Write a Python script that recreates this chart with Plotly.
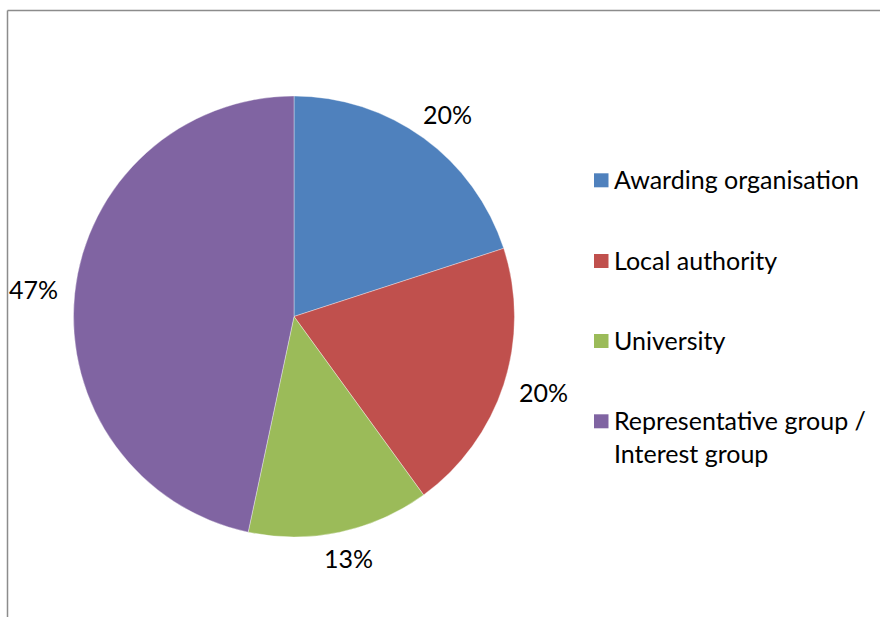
import math
import plotly.graph_objects as go

# Respondent counts by organisation type
categories = ["Awarding organisation", "Local authority", "University",
              "Representative group / Interest group"]
legend_labels = ["Awarding organisation", "Local authority", "University",
                 "Representative group /<br>Interest group"]
counts = [3, 3, 2, 7]
colors = ["#4F81BD", "#C0504D", "#9BBB59", "#8064A2"]

W, H = 880, 617
FONT = "Lato"
FONT_SIZE = 25

# Pie geometry in pixels
cx, cy, r = 294, 316.5, 220.5
# Percentage labels sit on an ellipse around the pie (labels are wider than tall)
label_rx, label_ry = 262, 248

fig = go.Figure(go.Pie(
    labels=categories,
    values=counts,
    sort=False,
    direction="clockwise",
    rotation=0,
    marker=dict(colors=colors, line=dict(color="rgba(255,255,255,0.6)", width=0.6)),
    textinfo="none",
    domain=dict(x=[(cx - r) / W, (cx + r) / W],
                y=[(H - cy - r) / H, (H - cy + r) / H]),
    showlegend=False,
    hoverinfo="label+percent",
))

shapes = []
annotations = []

# Percentage labels outside each slice, placed along the slice's mid-angle
total = sum(counts)
start = 0.0
for c in counts:
    frac = c / total
    mid = (start + frac / 2) * 2 * math.pi  # clockwise from 12 o'clock
    start += frac
    lx = cx + label_rx * math.sin(mid)
    ly = cy - label_ry * math.cos(mid) - 1.5
    annotations.append(dict(xref="paper", yref="paper",
                            x=lx / W, y=1 - ly / H,
                            xanchor="center", yanchor="middle",
                            text=f"{round(frac * 100)}%", showarrow=False,
                            font=dict(family=FONT, size=FONT_SIZE, color="#000000")))

# Chart border (top and left edges visible)
shapes.append(dict(type="line", xref="paper", yref="paper",
                   x0=7.5 / W, x1=1.0, y0=1 - 10.5 / H, y1=1 - 10.5 / H,
                   line=dict(color="#8c8c8c", width=1.5)))
shapes.append(dict(type="line", xref="paper", yref="paper",
                   x0=7.5 / W, x1=7.5 / W, y0=0, y1=1 - 10.5 / H,
                   line=dict(color="#8c8c8c", width=1.5)))

# Legend: swatches with labels
legend_y = [180.3, 261, 341, 421.3]
for lab, col, ly in zip(legend_labels, colors, legend_y):
    shapes.append(dict(type="rect", xref="paper", yref="paper",
                       x0=594 / W, x1=608.5 / W,
                       y0=1 - (ly + 7) / H, y1=1 - (ly - 7) / H,
                       fillcolor=col, line=dict(width=0)))
    annotations.append(dict(xref="paper", yref="paper",
                            x=612 / W, y=1 - (ly - 18.5) / H,
                            xanchor="left", yanchor="top",
                            text=lab, showarrow=False, align="left",
                            font=dict(family=FONT, size=FONT_SIZE, color="#000000")))

fig.update_layout(
    width=W, height=H,
    margin=dict(l=0, r=0, t=0, b=0),
    paper_bgcolor="white",
    plot_bgcolor="white",
    shapes=shapes,
    annotations=annotations,
)

fig.write_html("out.html")
